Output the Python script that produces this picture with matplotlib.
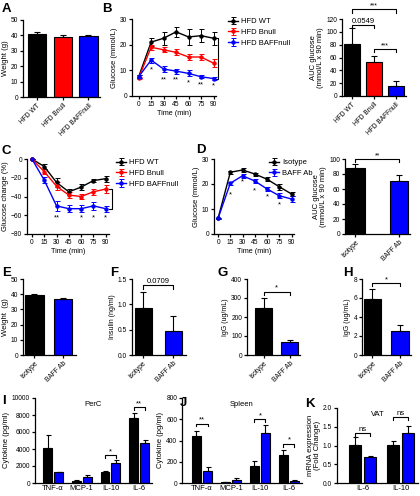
import matplotlib
matplotlib.use('Agg')
import matplotlib.pyplot as plt
import numpy as np

plt.rcParams['font.family'] = ['Liberation Sans', 'DejaVu Sans']

# ---- data ----
time = [0, 15, 30, 45, 60, 75, 90]

a_groups = ['HFD WT', 'HFD Bnull', 'HFD BAFFnull']
a_weight = [41, 39.2, 39.5]
a_weight_err = [1.0, 1.0, 0.6]

b_wt = [7.5, 21, 22.5, 25, 23, 23.5, 22.5]
b_wt_err = [0.5, 1.5, 2.5, 2, 3, 2.5, 2.5]
b_bnull = [7, 19, 18, 17, 15.2, 15.2, 12.8]
b_bnull_err = [0.5, 1, 1, 1.2, 1, 1.2, 1.5]
b_baff = [7.5, 14, 10.5, 9.7, 8.8, 7.5, 6.8]
b_baff_err = [0.5, 1, 1, 1, 1.2, 0.6, 0.5]
b_stars = ['*', '**', '**', '*', '**', '*']
b_star_y = [10.3, 6.2, 6.2, 5.3, 4.5, 4.0]

b_auc = [81, 53, 15]
b_auc_err = [25, 9, 8]

c_wt = [0, -8, -25, -35, -30, -23, -21]
c_wt_err = [0, 3, 5, 3, 3, 2, 3]
c_bnull = [0, -13.5, -29, -38.5, -40, -35, -32]
c_bnull_err = [0, 3, 4, 3, 3, 3, 4]
c_baff = [0, -22.5, -50, -53, -53, -50, -53]
c_baff_err = [0, 3, 5, 4, 4, 4, 3]
c_star_t = [30, 60, 75, 90]
c_stars = ['**', '*', '*', '*']

d_groups = ['Isotype', 'BAFF Ab']
d_iso = [6.3, 24.7, 25.6, 24, 21.9, 18.9, 16]
d_iso_err = [0.3, 0.6, 0.7, 0.6, 0.8, 1.2, 0.8]
d_baff = [6.3, 20.3, 23.3, 21.2, 18, 15.3, 14]
d_baff_err = [0.3, 0.7, 0.7, 0.8, 0.7, 1.0, 1.3]
d_star_t = [15, 30, 45, 60, 75]
d_star_y = [15.6, 20.8, 17.2, 14.9, 11.6]

d_auc = [88, 71]
d_auc_err = [6, 8]

e_weight = [39.2, 37]
e_weight_err = [1.2, 0.8]
f_insulin = [0.92, 0.48]
f_insulin_err = [0.32, 0.29]
g_igg = [245, 70]
g_igg_err = [55, 8]
h_igg = [5.9, 2.55]
h_igg_err = [1.05, 0.65]

cyto = ['TNF-α', 'MCP-1', 'IL-10', 'IL-6']
i_iso = [4100, 250, 1250, 7700]
i_iso_err = [1500, 100, 200, 500]
i_baff = [1250, 750, 2350, 4700]
i_baff_err = [100, 200, 400, 350]

j_iso = [440, 5, 160, 265]
j_iso_err = [50, 3, 50, 50]
j_baff = [110, 28, 470, 20]
j_baff_err = [40, 15, 80, 5]

k_genes = ['IL-6', 'IL-10']
k_iso = [1.02, 1.01]
k_iso_err = [0.22, 0.1]
k_baff = [0.69, 1.33]
k_baff_err = [0.03, 0.19]

BLACK = '#000000'
RED = '#ff0000'
BLUE = '#0000ff'

W, H = 420, 496
fig = plt.figure(figsize=(W / 100, H / 100), dpi=100)

TICK_FS = 4.8
LAB_FS = 5.5


def add_ax(x0, y0, x1, y1):
    return fig.add_axes([x0 / W, 1 - y1 / H, (x1 - x0) / W, (y1 - y0) / H])


def prism(ax):
    for s in ['top', 'right']:
        ax.spines[s].set_visible(False)
    for s in ['left', 'bottom']:
        ax.spines[s].set_linewidth(0.9)
    ax.tick_params(width=0.9, length=2.3, labelsize=TICK_FS, pad=1.2)


def letter(x, y, s):
    fig.text(x / W, 1 - y / H, s, fontsize=9.5, fontweight='bold', va='top', ha='left')


def bracket(ax, x0, x1, y, text, drop, fs=5.5):
    ax.plot([x0, x0, x1, x1], [y - drop, y, y, y - drop], color='k', lw=0.8, clip_on=False)
    ax.text((x0 + x1) / 2, y, text, ha='center', va='bottom', fontsize=fs)


def bars(ax, vals, errs, colors, width, labels, xlim, ylim, yticks, ylabel, ylfs=LAB_FS):
    x = np.arange(len(vals))
    ax.bar(x, vals, width=width, color=colors, edgecolor='k', linewidth=0.8)
    ax.errorbar(x, vals, yerr=[np.zeros(len(errs)), errs], fmt='none', ecolor='k',
                elinewidth=0.8, capsize=2.2, capthick=0.8, clip_on=False)
    ax.set_xlim(*xlim)
    ax.set_ylim(*ylim)
    ax.set_yticks(yticks)
    ax.set_xticks(x)
    ax.set_xticklabels(labels, rotation=45, ha='right', rotation_mode='anchor', fontsize=5.2)
    ax.set_ylabel(ylabel, fontsize=ylfs, labelpad=1.5, linespacing=1.0)
    prism(ax)
    return x


def grouped(ax, names, iso, iso_err, baff, baff_err, xlim, ylim, yticks, ylabel, title, off=0.19, width=0.31):
    x = np.arange(len(names))
    for xs, v, e, c in [(x - off, iso, iso_err, BLACK), (x + off, baff, baff_err, BLUE)]:
        ax.bar(xs, v, width=width, color=c, edgecolor='k', linewidth=0.8)
        ax.errorbar(xs, v, yerr=[np.zeros(len(e)), e], fmt='none', ecolor='k',
                    elinewidth=0.8, capsize=1.8, capthick=0.8)
    ax.set_xlim(*xlim)
    ax.set_ylim(*ylim)
    ax.set_yticks(yticks)
    ax.set_xticks(x)
    ax.set_xticklabels(names)
    ax.set_ylabel(ylabel, fontsize=LAB_FS, labelpad=1.5, linespacing=1.0)
    ax.set_title(title, fontsize=5.5, pad=0, y=0.9)
    prism(ax)
    ax.tick_params(axis='x', length=0, labelsize=5.5)
    return x


def curves(ax, series, xlim, ylim, yticks, ylabel):
    for m, e, c, lab in series:
        ax.errorbar(time, m, yerr=e, color=c, marker='o', ms=2.2, lw=1.0, elinewidth=0.7,
                    capsize=1.8, capthick=0.7, label=lab, clip_on=False)
    ax.set_xlim(*xlim)
    ax.set_ylim(*ylim)
    ax.set_yticks(yticks)
    ax.set_xticks(time)
    ax.set_xlabel('Time (min)', fontsize=5.2, labelpad=1.5)
    ax.set_ylabel(ylabel, fontsize=LAB_FS, labelpad=1.5)
    prism(ax)


def legend(ax, x, y):
    h, l = ax.get_legend_handles_labels()
    ax.legend(h, l, loc='upper left', bbox_to_anchor=(x / W, 1 - y / H), bbox_transform=fig.transFigure,
              frameon=False, fontsize=5.5, handlelength=1.3, handletextpad=0.4, labelspacing=0.45,
              borderpad=0, borderaxespad=0)


# ---- A ----
axA = add_ax(23, 20, 100, 97)
bars(axA, a_weight, a_weight_err, [BLACK, RED, BLUE], 0.72, a_groups, (-0.55, 2.45),
     (0, 50), [0, 10, 20, 30, 40, 50], 'Weight (g)')
letter(2, 3, 'A')

# ---- B ----
axB = add_ax(132, 19, 216, 96)
curves(axB, [(b_wt, b_wt_err, BLACK, 'HFD WT'), (b_bnull, b_bnull_err, RED, 'HFD Bnull'),
             (b_baff, b_baff_err, BLUE, 'HFD BAFFnull')],
       (-8, 93), (0, 30), [0, 10, 20, 30], 'Glucose (mmol/L)')
for t, s, y in zip(time[1:], b_stars, b_star_y):
    axB.text(t, y, s, ha='center', va='center', fontsize=5.5)
axB.plot([92, 96, 96, 92], [b_wt[-1], b_wt[-1], b_baff[-1], b_baff[-1]], color='k', lw=0.8, clip_on=False)
legend(axB, 228, 18)
letter(102, 3, 'B')

axB2 = add_ax(342, 19, 406, 96)
bars(axB2, b_auc, b_auc_err, [BLACK, RED, BLUE], 0.75, a_groups, (-0.45, 2.45),
     (0, 120), [0, 20, 40, 60, 80, 100, 120], 'AUC glucose\n(mmol/L x 90 min)')
bracket(axB2, 0, 1, 111, '0.0549', 5, fs=5.5)
bracket(axB2, 1, 2, 73, '***', 5, fs=5)
bracket(axB2, 0, 2, 135, '***', 5, fs=5)

# ---- C ----
axC = add_ax(27, 159, 109, 234)
curves(axC, [(c_wt, c_wt_err, BLACK, 'HFD WT'), (c_bnull, c_bnull_err, RED, 'HFD Bnull'),
             (c_baff, c_baff_err, BLUE, 'HFD BAFFnull')],
       (-6, 94), (-80, 0), [-80, -60, -40, -20, 0], 'Glucose change (%)')
for t, s in zip(c_star_t, c_stars):
    axC.text(t, -63, s, ha='center', va='center', fontsize=5.5)
axC.plot([94, 98, 98, 94], [c_bnull[-1], c_bnull[-1], c_baff[-1], c_baff[-1]], color='k', lw=0.8, clip_on=False)
legend(axC, 116, 159)
letter(2, 145, 'C')

# ---- D ----
axD = add_ax(214, 159, 294, 234)
curves(axD, [(d_iso, d_iso_err, BLACK, 'Isotype'), (d_baff, d_baff_err, BLUE, 'BAFF Ab')],
       (-5, 93), (0, 30), [0, 10, 20, 30], 'Glucose (mmol/L)')
for t, y in zip(d_star_t, d_star_y):
    axD.text(t, y, '*', ha='center', va='center', fontsize=5.5)
legend(axD, 269, 159)
letter(196, 144, 'D')

axD2 = add_ax(345, 159, 410, 234)
bars(axD2, d_auc, d_auc_err, [BLACK, BLUE], 0.42, d_groups, (-0.24, 1.25),
     (0, 100), [0, 20, 40, 60, 80, 100], 'AUC glucose\n(mmol/L x 90 min)')
bracket(axD2, 0, 1, 100, '**', 4, fs=5)

# ---- E-H ----
axE = add_ax(23, 279, 76, 355)
bars(axE, e_weight, e_weight_err, [BLACK, BLUE], 0.65, d_groups, (-0.4, 1.45),
     (0, 50), [0, 10, 20, 30, 40, 50], 'Weight  (g)')
letter(2, 267, 'E')

axF = add_ax(132, 279, 186, 355)
bars(axF, f_insulin, f_insulin_err, [BLACK, BLUE], 0.57, d_groups, (-0.37, 1.43),
     (0, 1.5), [0, 0.5, 1.0, 1.5], 'Insulin (ng/ml)', ylfs=5)
axF.set_yticklabels(['0.0', '0.5', '1.0', '1.5'])
bracket(axF, 0, 1, 1.38, '0.0709', 0.07, fs=5.5)
letter(110, 267, 'F')

axG = add_ax(247, 279, 300, 355)
bars(axG, g_igg, g_igg_err, [BLACK, BLUE], 0.65, d_groups, (-0.65, 1.4),
     (0, 400), [0, 100, 200, 300, 400], 'IgG (ug/mL)', ylfs=5)
bracket(axG, 0, 1, 333, '*', 15, fs=5.5)
letter(217, 267, 'G')

axH = add_ax(362, 279, 411, 355)
bars(axH, h_igg, h_igg_err, [BLACK, BLUE], 0.65, d_groups, (-0.38, 1.4),
     (0, 8), [0, 2, 4, 6, 8], 'IgG (ug/mL)', ylfs=5)
bracket(axH, 0, 1, 7.55, '*', 0.3, fs=5.5)
letter(343, 267, 'H')

# ---- I-K ----
axI = add_ax(35, 398, 152, 483)
grouped(axI, cyto, i_iso, i_iso_err, i_baff, i_baff_err, (-0.63, 3.45), (0, 10000),
        [0, 2000, 4000, 6000, 8000, 10000], 'Cytokine (pg/ml)', 'PerC')
bracket(axI, 2 - 0.19, 2 + 0.19, 3300, '*', 350)
bracket(axI, 3 - 0.19, 3 + 0.19, 8900, '**', 350)
letter(2, 395, 'I')

axJ = add_ax(182, 398, 302, 483)
grouped(axJ, cyto, j_iso, j_iso_err, j_baff, j_baff_err, (-0.69, 3.45), (0, 800),
        [0, 200, 400, 600, 800], 'Cytokine (pg/ml)', 'Spleen')
bracket(axJ, 0 - 0.19, 0 + 0.19, 560, '**', 28)
bracket(axJ, 2 - 0.19, 2 + 0.19, 600, '*', 28)
bracket(axJ, 3 - 0.19, 3 + 0.19, 370, '*', 28)
letter(180, 397, 'J')

axK = add_ax(337, 408, 418, 483)
grouped(axK, k_genes, k_iso, k_iso_err, k_baff, k_baff_err, (-0.67, 1.46), (0, 2.0),
        [0, 0.5, 1.0, 1.5, 2.0], 'mRNA expression\n(Fold Change)', 'VAT')
axK.set_yticklabels(['0.0', '0.5', '1.0', '1.5', '2.0'])
bracket(axK, 0 - 0.19, 0 + 0.19, 1.33, 'ns', 0.07)
bracket(axK, 1 - 0.19, 1 + 0.19, 1.75, 'ns', 0.07)
letter(305, 398, 'K')

fig.savefig('out.png', dpi=100)
